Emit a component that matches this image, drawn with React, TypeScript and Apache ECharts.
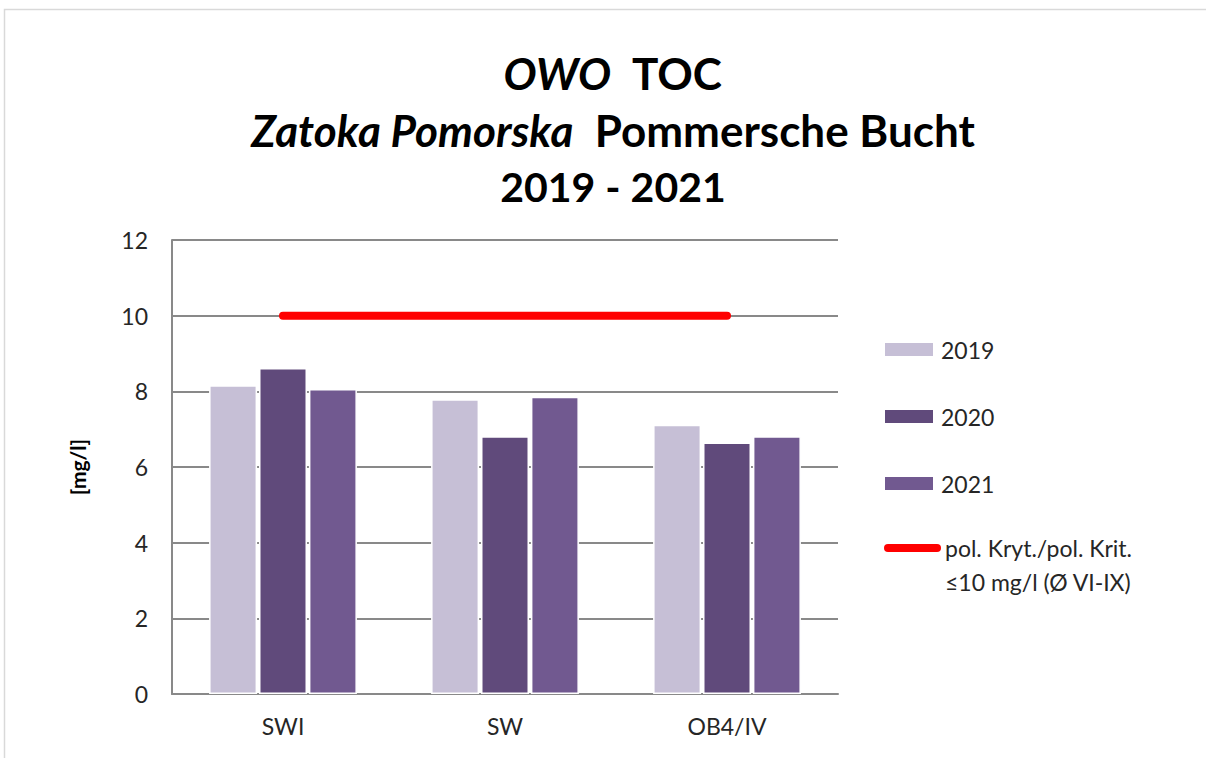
import React, { useEffect, useRef } from "react";
import * as echarts from "echarts";

const categories = ["SWI", "SW", "OB4/IV"];
const years = ["2019", "2020", "2021"];
const values2019 = [8.16, 7.79, 7.12];
const values2020 = [8.62, 6.81, 6.65];
const values2021 = [8.06, 7.86, 6.81];
const limitValues = [10, 10, 10];
const limitName = "pol. Kryt./pol. Krit.";
const limitName2 = "≤10 mg/l (Ø VI-IX)";
const yTicks = { min: 0, max: 12, interval: 2 };
const colors = ["#C6BFD6", "#604A7B", "#715990"];

const FONT = "Lato";
const TEXT = "#262626";

export default function App() {
  const ref = useRef<HTMLDivElement>(null);
  useEffect(() => {
    if (!ref.current) return;
    const chart = echarts.init(ref.current, undefined, { renderer: "svg" });
    const seriesVals = [values2019, values2020, values2021];
    const option: any = {
      animation: false,
      backgroundColor: "#ffffff",
      textStyle: { fontFamily: FONT },
      title: {
        left: 608,
        top: 39,
        textAlign: "center",
        text:
          "{i|OWO}{b|  TOC}\n{i|Zatoka Pomorska}{b|  Pommersche Bucht}\n{d|2019 - 2021}",
        textStyle: {
          rich: {
            i: { fontFamily: FONT, fontSize: 44, fontWeight: "bold", fontStyle: "italic", color: "#000", lineHeight: 57 },
            b: { fontFamily: FONT, fontSize: 44, fontWeight: "bold", color: "#000", lineHeight: 57 },
            d: { fontFamily: FONT, fontSize: 41, fontWeight: "bold", color: "#000", lineHeight: 57 },
          },
        },
      },
      grid: { left: 172, right: 368, top: 240, bottom: 64, containLabel: false },
      legend: [
        {
          data: years,
          orient: "vertical",
          left: 885,
          top: 336,
          padding: 0,
          itemWidth: 48,
          itemHeight: 13,
          itemGap: 40,
          icon: "rect",
          itemStyle: { borderWidth: 0 },
          textStyle: { fontFamily: FONT, fontSize: 23, color: TEXT, lineHeight: 27, padding: [0, 0, 0, 3] },
        },
        {
          data: [limitName],
          orient: "vertical",
          left: 884,
          top: 497,
          padding: 0,
          itemWidth: 49,
          itemHeight: 13,
          itemStyle: { opacity: 0 },
          lineStyle: { width: 8, cap: "round", color: "#FF0000" },
          formatter: () => " \n" + limitName + "\n" + limitName2,
          textStyle: { fontFamily: FONT, fontSize: 23, color: TEXT, lineHeight: 34, padding: [0, 0, 0, 3] },
        },
      ],
      xAxis: {
        type: "category",
        data: categories,
        axisLine: { lineStyle: { color: "#898989", width: 2 } },
        axisTick: { show: false },
        axisLabel: { fontFamily: FONT, fontSize: 23, color: TEXT, margin: 20 },
      },
      yAxis: {
        type: "value",
        min: yTicks.min,
        max: yTicks.max,
        interval: yTicks.interval,
        name: "[mg/l]",
        nameLocation: "middle",
        nameGap: 84,
        nameTextStyle: { fontFamily: FONT, fontSize: 21, fontWeight: "bold", color: "#000" },
        axisLine: { show: true, lineStyle: { color: "#898989", width: 2 } },
        axisTick: { show: false },
        axisLabel: { fontFamily: FONT, fontSize: 23, color: TEXT, margin: 24 },
        splitLine: { lineStyle: { color: "#898989", width: 2 } },
      },
      series: [
        ...years.map((y, i) => ({
          name: y,
          type: "bar",
          data: seriesVals[i],
          barWidth: 48,
          barGap: "4%",
          itemStyle: { color: colors[i], borderColor: "#ffffff", borderWidth: 1.5 },
        })),
        {
          name: limitName,
          type: "line",
          data: limitValues,
          symbol: "none",
          z: 5,
          lineStyle: { color: "#FF0000", width: 8, cap: "round" },
          itemStyle: { color: "#FF0000" },
        },
      ],
      graphic: [
        {
          type: "rect",
          shape: { x: 4.5, y: 9.5, width: 1300, height: 900 },
          style: { fill: "none", stroke: "#D9D9D9", lineWidth: 1.5 },
          silent: true,
        },
      ],
    };
    chart.setOption(option);
    return () => chart.dispose();
  }, []);
  return (
    <div
      ref={ref}
      style={{ position: "absolute", left: 0, top: 0, width: 1206, height: 758 }}
    />
  );
}
